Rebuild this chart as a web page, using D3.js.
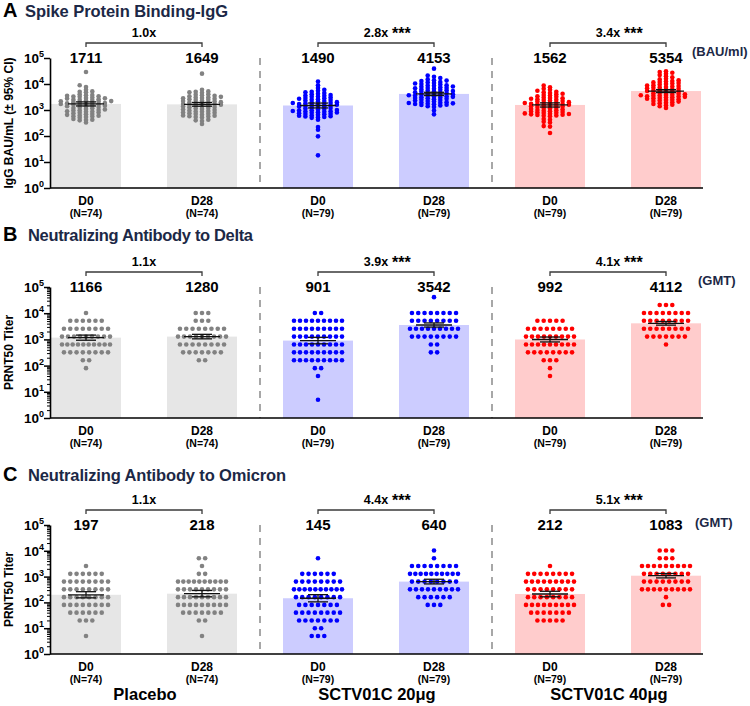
<!DOCTYPE html>
<html><head><meta charset="utf-8">
<script src="https://cdn.jsdelivr.net/npm/d3@7"></script>
<style>
body{margin:0;background:#fff}
text{font-family:"Liberation Sans",Arial,Helvetica,sans-serif;font-weight:bold}
</style>
</head><body>
<svg id="chart" width="750" height="706"></svg>
<script>
// ---------------- DATA ----------------
const groups = ["P_D0","P_D28","L_D0","L_D28","H_D0","H_D28"];
const dayLabels = ["D0","D28","D0","D28","D0","D28"];
const nLabels = ["(N=74)","(N=74)","(N=79)","(N=79)","(N=79)","(N=79)"];
const armLabels = ["Placebo","SCTV01C 20μg","SCTV01C 40μg"];
const yTickValues = [1,10,100,1000,10000,100000];

// Panel A: spike IgG (BAU/ml)
const gmtA = [1711,1649,1490,4153,1562,5354];
const ciLowA = [1430,1400,1200,3600,1300,4700];
const ciHighA = [2050,1950,1850,4800,1880,6100];
const foldA = ["1.0x","2.8x","3.4x"];
const sigA = ["","***","***"];

// Panel B: Delta PRNT50
const gmtB = [1166,1280,901,3542,992,4112];
const ciLowB = [930,1050,680,2950,800,3500];
const ciHighB = [1460,1560,1190,4250,1230,4830];
const foldB = ["1.1x","3.9x","4.1x"];
const sigB = ["","***","***"];

// Panel C: Omicron PRNT50
const gmtC = [197,218,145,640,212,1083];
const ciLowC = [150,165,105,520,165,890];
const ciHighC = [260,290,200,790,270,1320];
const foldC = ["1.1x","4.4x","5.1x"];
const sigC = ["","***","***"];

// Individual IgG values (panel A)
const igPlaceboD0 = [29000,9000,7600,6000,5200,5000,4800,4000,3800,3700,3500,3400,3300,3200,3000,2900,2800,2750,2600,2500,2450,2400,2300,2200,2150,2100,2000,1950,1900,1850,1800,1780,1700,1650,1600,1560,1500,1450,1400,1380,1300,1250,1200,1180,1100,1050,1000,980,950,900,880,850,800,780,750,700,680,650,620,600,580,560,540,500,450,420,410,400,330];
const igPlaceboD28 = [25000,6000,5200,5000,4800,4600,4000,3900,3700,3500,3400,3200,3100,3000,2900,2800,2700,2600,2500,2400,2300,2200,2100,2000,1950,1900,1850,1800,1700,1650,1600,1550,1500,1450,1400,1350,1300,1250,1200,1150,1100,1050,1000,960,920,880,850,800,780,750,720,700,650,620,600,580,560,540,520,420,400,380,290];
const igLowD0 = [12500,9000,7000,6000,5500,5000,4800,4500,4200,4000,3800,3600,3500,3300,3200,3000,2900,2800,2700,2600,2500,2400,2300,2200,2100,2000,1950,1900,1850,1800,1750,1700,1650,1600,1550,1500,1450,1400,1350,1300,1250,1200,1150,1100,1050,1000,980,950,920,900,870,850,820,800,780,750,720,700,680,650,620,600,580,560,540,520,500,420,220,175,97,18];
const igLowD28 = [39000,21000,19000,17000,15000,14000,13500,13000,12000,11500,11000,10500,10000,9500,9000,8800,8500,8000,7800,7500,7200,7000,6800,6500,6200,6000,5800,5600,5400,5200,5000,4800,4700,4500,4400,4200,4000,3900,3800,3700,3600,3500,3400,3300,3200,3100,3000,2900,2800,2700,2600,2500,2400,2300,2200,2100,2000,1950,1900,1850,1800,1750,1700,1650,1600,1550,1500,1400,1300,950,680];
const igHighD0 = [8700,7500,6500,6000,5500,5000,4800,4500,4200,4000,3800,3600,3400,3200,3000,2900,2800,2700,2600,2500,2400,2300,2200,2100,2000,1950,1900,1850,1800,1750,1700,1650,1600,1550,1500,1450,1400,1350,1300,1250,1200,1150,1100,1050,1000,970,940,900,870,840,800,780,760,740,720,700,680,660,640,620,600,580,450,420,350,330,240,230,130];
const igHighD28 = [31000,29000,27000,25000,22000,20000,18000,16000,15000,14000,13000,12500,12000,11500,11000,10500,10000,9500,9000,8700,8400,8000,7700,7400,7100,6800,6500,6200,6000,5800,5600,5400,5200,5000,4800,4600,4400,4200,4000,3900,3800,3700,3600,3500,3400,3300,3200,3100,3000,2900,2800,2700,2600,2500,2400,2300,2200,2100,2000,1900,1800,1700,1600,1500,1400,1200];

// PRNT50 titers (panels B, C): number of subjects at each dilution level
const titerLevels = [40960,20480,10240,5120,2560,1280,640,320,160,80,40,20,10,5];
const deltaPlaceboD0 = [0,0,1,6,8,9,10,8,2,1,0,0,0,0];
const deltaPlaceboD28 = [0,0,3,3,8,9,8,7,2,0,0,0,0,0];
const deltaLowD0 = [0,0,2,9,9,9,9,9,9,2,1,0,0,1];
const deltaLowD28 = [1,0,8,8,9,8,2,2,0,0,0,0,0,0];
const deltaHighD0 = [0,0,0,5,8,9,9,8,3,1,1,0,0,0];
const deltaHighD28 = [0,3,8,8,8,7,1,0,0,0,0,0,0,0];
const omiPlaceboD0 = [0,0,0,0,1,6,8,8,8,8,6,3,0,1];
const omiPlaceboD28 = [0,0,0,2,1,2,10,9,9,9,7,2,0,1];
const omiLowD0 = [0,0,0,1,0,6,8,10,8,7,8,7,2,3];
const omiLowD28 = [0,0,1,1,8,10,8,9,6,3,0,0,0,0];
const omiHighD0 = [0,0,0,0,1,8,9,8,8,9,7,5,0,0];
const omiHighD28 = [0,0,3,3,9,8,8,9,1,2,0,0,0,0];

// ---------------- STYLE / LAYOUT ----------------
const dotColors = ["#828282","#0000ff","#ff0000"];
const barColors = ["#e6e6e6","#ccccff","#ffcccc"];
const navy = "#1c2846";

const svg = d3.select("#chart");
const x = d3.scalePoint().domain(groups).range([86, 666]);
const barW = 70, dotR = 2.3;

const panels = [
  {letter:"A", title:"Spike Protein Binding-IgG", titleW:203, titleX:25, titleY:17,
   ylab:"IgG BAU/mL (± 95% CI)", top:58, bot:188, gmt:gmtA, lo:ciLowA, hi:ciHighA,
   fold:foldA, sig:sigA, unit:"(BAU/ml)", unitX:692, unitY:56, minor:false,
   swarm:[igPlaceboD0,igPlaceboD28,igLowD0,igLowD28,igHighD0,igHighD28], showArms:false},
  {letter:"B", title:"Neutralizing Antibody to Delta", titleW:225, titleX:28, titleY:241,
   ylab:"PRNT50 Titer", top:287, bot:418, gmt:gmtB, lo:ciLowB, hi:ciHighB,
   fold:foldB, sig:sigB, unit:"(GMT)", unitX:698, unitY:285, minor:true,
   rows:[deltaPlaceboD0,deltaPlaceboD28,deltaLowD0,deltaLowD28,deltaHighD0,deltaHighD28], showArms:false},
  {letter:"C", title:"Neutralizing Antibody to Omicron", titleW:258, titleX:28, titleY:481,
   ylab:"PRNT50 Titer", top:525, bot:654, gmt:gmtC, lo:ciLowC, hi:ciHighC,
   fold:foldC, sig:sigC, unit:"(GMT)", unitX:695, unitY:527, minor:true,
   rows:[omiPlaceboD0,omiPlaceboD28,omiLowD0,omiLowD28,omiHighD0,omiHighD28], showArms:true}
];

function swarmLayout(values, cx, y) {
  const slots = [0,-1,1,-2,2,-3,3,-4,4];
  const step = 6.3, minDy = 2.4;
  const placed = {};
  return values.slice().sort((a,b)=>a-b).map(v => {
    const py = y(v);
    let best = 0, bestD = -1;
    for (const s of slots) {
      const ys = placed[s] || [];
      const d = ys.length ? d3.min(ys, q => Math.abs(q - py)) : Infinity;
      if (d >= minDy) { best = s; bestD = d; break; }
      if (d > bestD) { bestD = d; best = s; }
    }
    (placed[best] = placed[best] || []).push(py);
    return {x: cx + best*step, y: py};
  });
}
function rowLayout(counts, cx, y) {
  const pts = [];
  counts.forEach((n, i) => {
    if (!n) return;
    const sp = n > 1 ? Math.min(6.3, 48/(n-1)) : 0;
    for (let k = 0; k < n; k++) pts.push({x: cx + (k-(n-1)/2)*sp, y: y(titerLevels[i])});
  });
  return pts;
}

panels.forEach(p => {
  const g = svg.append("g");
  const y = d3.scaleLog().domain([1, 1e5]).range([p.bot, p.top]);

  // title
  g.append("text").attr("x", 3).attr("y", p.titleY).attr("font-size", 20).attr("fill", "#000").text(p.letter);
  g.append("text").attr("x", p.titleX).attr("y", p.titleY).attr("font-size", 16.5).attr("fill", navy)
    .attr("textLength", p.titleW).attr("lengthAdjust", "spacing").text(p.title);

  // separators
  [260, 492].forEach(sx => g.append("line").attr("x1", sx).attr("x2", sx).attr("y1", p.top).attr("y2", p.bot)
    .attr("stroke", "#8a8a8a").attr("stroke-width", 1.5).attr("stroke-dasharray", "7,6"));

  // bars
  g.selectAll("rect.bar").data(groups).join("rect")
    .attr("x", d => x(d) - barW/2).attr("width", barW)
    .attr("y", (d,i) => y(p.gmt[i])).attr("height", (d,i) => p.bot - y(p.gmt[i]))
    .attr("fill", (d,i) => barColors[Math.floor(i/2)]);

  // dots
  groups.forEach((gk, i) => {
    const pts = p.swarm ? swarmLayout(p.swarm[i], x(gk), y) : rowLayout(p.rows[i], x(gk), y);
    g.append("g").selectAll("circle").data(pts).join("circle")
      .attr("cx", d => d.x).attr("cy", d => d.y).attr("r", dotR)
      .attr("fill", dotColors[Math.floor(i/2)]);
  });

  // error bars (GMT ± 95% CI)
  groups.forEach((gk, i) => {
    const cx = x(gk);
    const eg = g.append("g").attr("stroke", "#111").attr("stroke-width", 1.3);
    eg.append("line").attr("x1", cx-18).attr("x2", cx+18).attr("y1", y(p.gmt[i])).attr("y2", y(p.gmt[i]));
    eg.append("line").attr("x1", cx).attr("x2", cx).attr("y1", y(p.lo[i])).attr("y2", y(p.hi[i]));
    [p.lo[i], p.hi[i]].forEach(v => eg.append("line").attr("x1", cx-10).attr("x2", cx+10).attr("y1", y(v)).attr("y2", y(v)));
  });

  // axes
  const ax = g.append("g").attr("transform", "translate(50,0)")
    .call(d3.axisLeft(y).tickValues(yTickValues).tickFormat("").tickSize(6).tickSizeOuter(0));
  ax.selectAll("line").attr("stroke", "#000").attr("stroke-width", 1.5);
  ax.select(".domain").attr("stroke", "#000").attr("stroke-width", 1.6);
  if (p.minor) {
    const minorVals = [];
    [1,10,100,1000,10000].forEach(b => [2,3,4,5,6,7,8,9].forEach(m => minorVals.push(b*m)));
    const mx = g.append("g").attr("transform", "translate(50,0)")
      .call(d3.axisLeft(y).tickValues(minorVals).tickFormat("").tickSize(3).tickSizeOuter(0));
    mx.select(".domain").remove();
    mx.selectAll("line").attr("stroke", "#000").attr("stroke-width", 1);
  }
  // tick labels 10^n
  yTickValues.forEach(v => {
    const t = g.append("text").attr("x", 44).attr("y", y(v) + 5).attr("text-anchor", "end").attr("font-size", 13.5).attr("fill", "#000");
    t.append("tspan").text("10");
    t.append("tspan").attr("font-size", 9).attr("dy", -6).text(Math.round(Math.log10(v)));
  });
  // x baseline
  g.append("line").attr("x1", 50).attr("x2", 703).attr("y1", p.bot).attr("y2", p.bot)
    .attr("stroke", "#000").attr("stroke-width", 1.6);

  // y label
  g.append("text").attr("transform", `translate(13,${(p.top+p.bot)/2}) rotate(-90)`)
    .attr("text-anchor", "middle").attr("font-size", 12).attr("fill", "#000").text(p.ylab);

  // GMT numbers
  groups.forEach((gk, i) => g.append("text").attr("x", x(gk)).attr("y", p.top + 5).attr("text-anchor", "middle")
    .attr("font-size", 15).attr("fill", "#000").text(p.gmt[i]));
  g.append("text").attr("x", p.unitX).attr("y", p.unitY).attr("font-size", 13).attr("fill", navy).text(p.unit);

  // brackets + fold change
  [0,1,2].forEach(a => {
    const x0 = x(groups[2*a]), x1 = x(groups[2*a+1]), by = p.top - 15;
    g.append("path").attr("d", `M${x0},${by+4}V${by}H${x1}V${by+4}`)
      .attr("fill", "none").attr("stroke", "#3a3a3a").attr("stroke-width", 1.3);
    const mid = (x0 + x1)/2;
    g.append("text").attr("x", mid).attr("y", by - 6).attr("text-anchor", "middle").attr("font-size", 12.5)
      .attr("fill", "#000").text(p.fold[a]);
    if (p.sig[a]) g.append("text").attr("x", mid + 16).attr("y", by - 4).attr("font-size", 16)
      .attr("fill", "#000").text(p.sig[a]);
  });

  // x labels
  groups.forEach((gk, i) => {
    g.append("text").attr("x", x(gk)).attr("y", p.bot + 17).attr("text-anchor", "middle").attr("font-size", 12).text(dayLabels[i]);
    g.append("text").attr("x", x(gk)).attr("y", p.bot + 29).attr("text-anchor", "middle").attr("font-size", 10.5).text(nLabels[i]);
  });
  if (p.showArms) {
    armLabels.forEach((lab, a) => g.append("text").attr("x", (x(groups[2*a]) + x(groups[2*a+1]))/2 + 1)
      .attr("y", p.bot + 46).attr("text-anchor", "middle").attr("font-size", 16.5).text(lab));
  }
});
</script>
</body></html>
